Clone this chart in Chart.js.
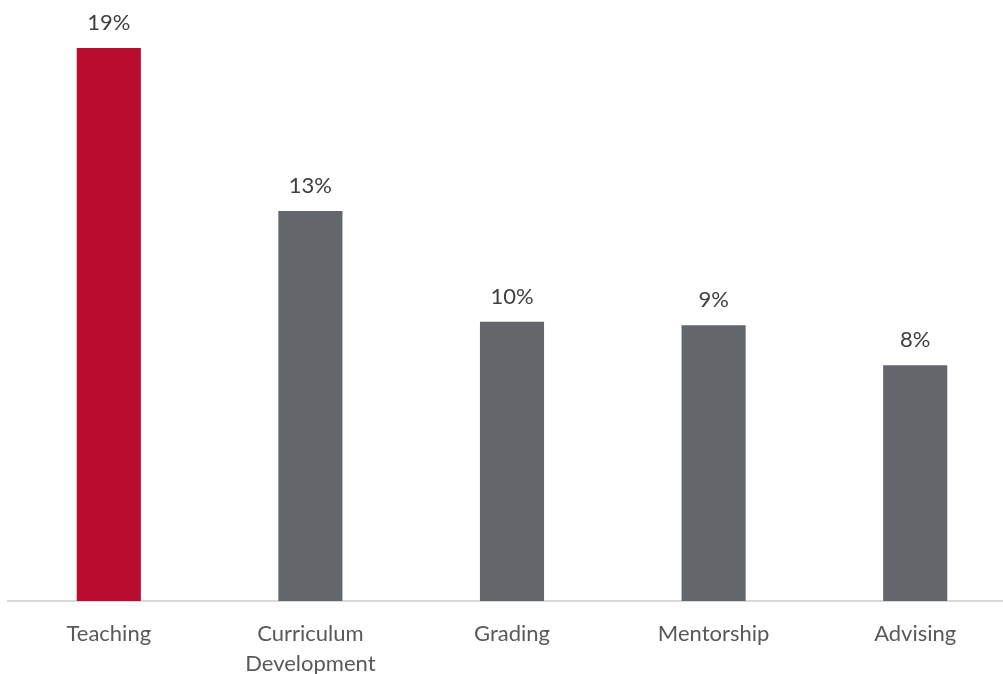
<!DOCTYPE html>
<html>
<head>
<meta charset="utf-8">
<script src="https://cdn.jsdelivr.net/npm/chart.js@4/dist/chart.umd.min.js"></script>
<style>
    html, body { margin: 0; padding: 0; background: #fff; overflow: hidden; }
    #wrap { width: 1016px; height: 674px; }
</style>
</head>
<body>
<div id="wrap"><canvas id="dutiesChart" width="1016" height="674"></canvas></div>
<script>
// Share of time by activity (%)
const categories = ['Teaching', ['Curriculum', 'Development'], 'Grading', 'Mentorship', 'Advising'];
const shares = [19.0, 13.4, 9.6, 9.48, 8.1];
const barColors = ['#BA0C2F', '#63666A', '#63666A', '#63666A', '#63666A'];

const FONT = 'Lato, "Open Sans", sans-serif';

// Percent labels above each bar
const valueLabels = {
    id: 'valueLabels',
    afterDatasetsDraw(chart) {
        const ctx = chart.ctx;
        const meta = chart.getDatasetMeta(0);
        ctx.save();
        ctx.font = '22px ' + FONT;
        ctx.fillStyle = '#404040';
        ctx.textAlign = 'center';
        ctx.textBaseline = 'alphabetic';
        meta.data.forEach((bar, i) => {
            ctx.fillText(Math.round(shares[i]) + '%', bar.x, bar.y - 18);
        });
        ctx.restore();
    }
};

new Chart(document.getElementById('dutiesChart').getContext('2d'), {
    type: 'bar',
    data: {
        labels: categories,
        datasets: [{
            data: shares,
            backgroundColor: barColors,
            borderWidth: 0,
            categoryPercentage: 1,
            barPercentage: 0.318
        }]
    },
    options: {
        responsive: false,
        animation: false,
        layout: { padding: { left: 8, right: 0, top: 19, bottom: 0 } },
        plugins: {
            legend: { display: false },
            tooltip: { enabled: false }
        },
        scales: {
            y: {
                display: false,
                min: 0,
                max: 20
            },
            x: {
                grid: { display: true, drawOnChartArea: false, drawTicks: false },
                border: { display: true, color: '#d9d9d9', width: 2 },
                ticks: {
                    color: '#595959',
                    font: { family: FONT, size: 22, lineHeight: 1.35 },
                    padding: 18,
                    maxRotation: 0,
                    autoSkip: false
                },
                afterFit(scale) {
                    scale.height = 73;
                }
            }
        }
    },
    plugins: [valueLabels]
});
</script>
</body>
</html>
